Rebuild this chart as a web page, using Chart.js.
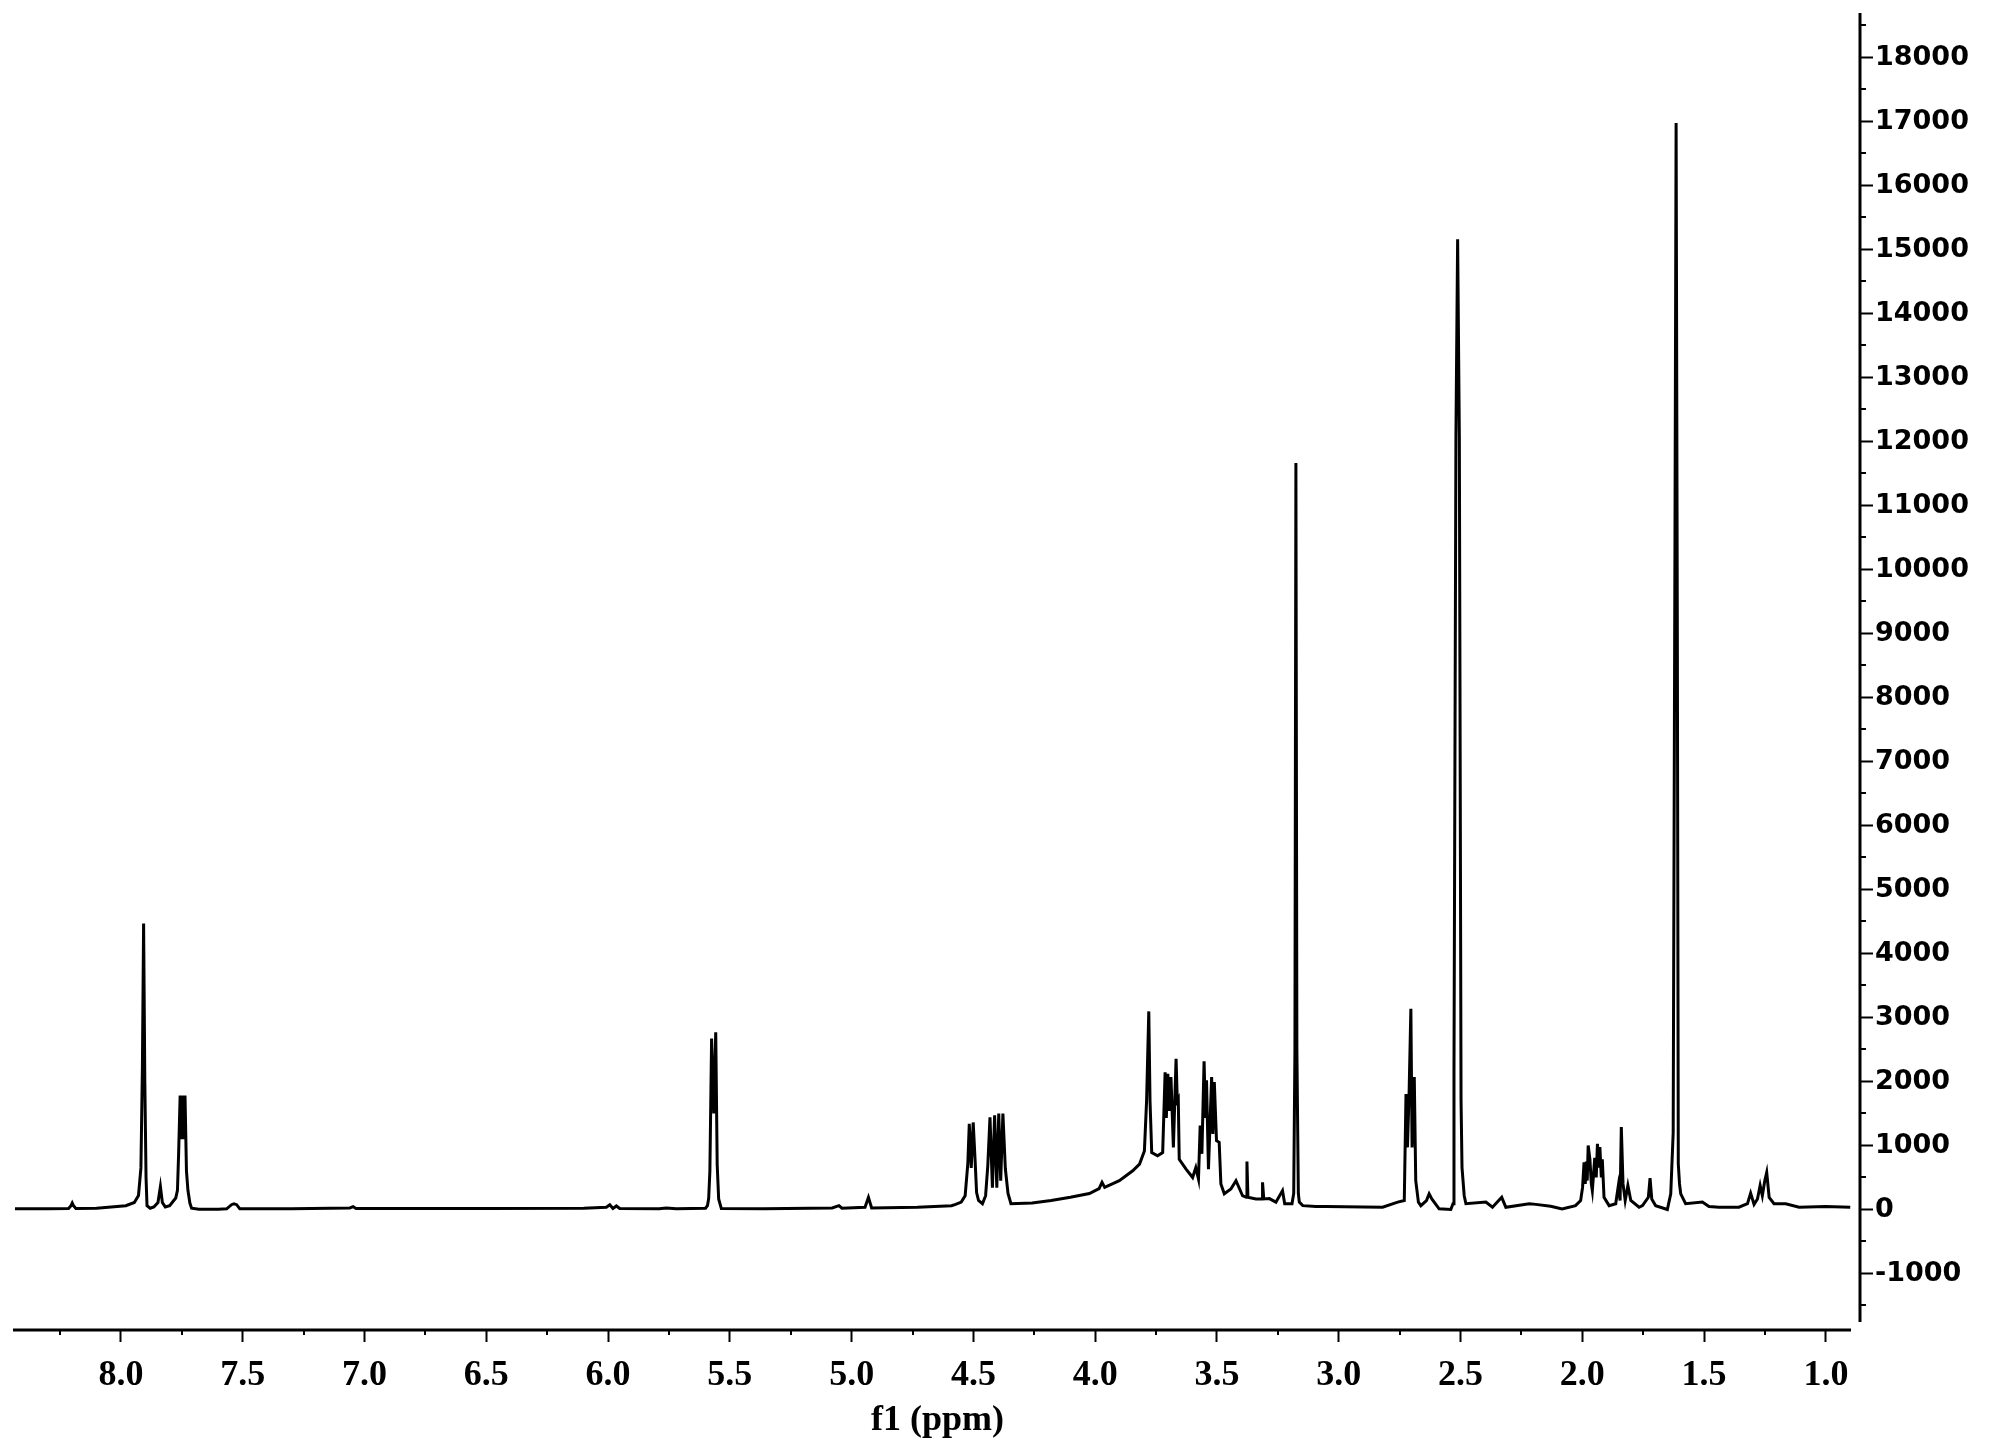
<!DOCTYPE html>
<html>
<head>
<meta charset="utf-8">
<title>1H NMR spectrum</title>
<script src="https://cdn.jsdelivr.net/npm/chart.js@4.4.1/dist/chart.umd.min.js"></script>
<style>
  html, body { margin: 0; padding: 0; background: #fff; }
  #wrap { width: 1991px; height: 1452px; }
</style>
</head>
<body>
<div id="wrap"><canvas id="nmr" width="1991" height="1452"></canvas></div>
<script>
// spectrum, [ppm, intensity]
const aromatic = [
  [8.435, 10], [8.30, 12], [8.215, 15], [8.205, 60], [8.200, 100], [8.195, 60], [8.185, 15],
  [8.10, 20], [8.04, 40], [7.98, 60], [7.945, 110], [7.928, 220], [7.918, 650], [7.912, 2200],
  [7.907, 4470], [7.902, 2000], [7.897, 500], [7.893, 60], [7.88, 20], [7.865, 40], [7.848, 110],
  [7.838, 360], [7.830, 110], [7.818, 40], [7.800, 60], [7.775, 180], [7.768, 300], [7.763, 900],
  [7.757, 1780], [7.752, 1100], [7.747, 1780], [7.742, 1100], [7.737, 1780], [7.731, 600],
  [7.725, 300], [7.717, 100], [7.71, 20], [7.68, 5]
];
const olefinic = [
  [7.60, 5], [7.566, 10], [7.546, 75], [7.536, 90], [7.525, 75], [7.512, 10], [7.30, 10],
  [7.06, 25], [7.047, 45], [7.035, 15], [6.50, 15], [6.10, 20], [6.007, 35], [5.993, 75],
  [5.980, 15], [5.966, 55], [5.952, 15], [5.79, 10], [5.761, 25], [5.72, 10], [5.60, 20]
];
const anomeric = [
  [5.592, 60], [5.587, 170], [5.582, 600], [5.575, 2670], [5.566, 1500], [5.558, 2770],
  [5.552, 700], [5.546, 165], [5.535, 15], [5.36, 10], [5.08, 25], [5.052, 60], [5.04, 20],
  [4.945, 35], [4.931, 190], [4.918, 25], [4.73, 35], [4.59, 60]
];
const sugar = [
  [4.573, 80], [4.550, 115], [4.534, 215], [4.523, 715], [4.517, 1340], [4.509, 650],
  [4.501, 1360], [4.493, 760], [4.487, 265], [4.479, 140], [4.463, 90], [4.450, 215],
  [4.441, 685], [4.432, 1440], [4.422, 340], [4.413, 1470], [4.404, 340], [4.396, 1500],
  [4.388, 450], [4.379, 1500], [4.369, 640], [4.358, 250], [4.346, 90], [4.259, 100],
  [4.181, 140], [4.102, 190], [4.024, 250], [3.984, 325], [3.972, 425], [3.961, 345],
  [3.901, 450], [3.846, 605], [3.818, 710], [3.798, 915], [3.789, 1700], [3.780, 3095],
  [3.775, 1700], [3.768, 890], [3.744, 840], [3.723, 890], [3.713, 2145], [3.708, 1430],
  [3.702, 2120], [3.695, 1540], [3.689, 2070], [3.679, 970], [3.668, 2355], [3.663, 1700],
  [3.659, 1730], [3.655, 785], [3.627, 630], [3.600, 500], [3.587, 655], [3.576, 475],
  [3.569, 1310], [3.562, 870], [3.553, 2315], [3.547, 1430], [3.543, 2020], [3.535, 630],
  [3.522, 2070], [3.517, 1180], [3.511, 1990], [3.502, 1075], [3.491, 1050], [3.484, 400],
  [3.470, 245], [3.443, 320], [3.422, 450], [3.395, 215]
];
const midfield = [
  [3.380, 190], [3.377, 750], [3.373, 190], [3.340, 165], [3.315, 165], [3.313, 425],
  [3.308, 165], [3.285, 170], [3.258, 115], [3.231, 295], [3.222, 90], [3.192, 90],
  [3.185, 250], [3.180, 2500], [3.176, 11665], [3.172, 2500], [3.166, 250], [3.162, 115],
  [3.148, 60], [3.094, 45], [3.053, 45], [2.82, 35], [2.758, 115], [2.731, 140], [2.724, 1805],
  [2.718, 970], [2.711, 1860], [2.704, 3135], [2.699, 970], [2.690, 2070], [2.684, 450],
  [2.673, 115], [2.663, 60], [2.640, 140], [2.629, 245], [2.618, 165], [2.588, 10], [2.540, 0],
  [2.531, 90], [2.527, 2170], [2.519, 12075], [2.512, 15160], [2.505, 12075], [2.498, 1710],
  [2.494, 655], [2.485, 215], [2.478, 90], [2.396, 115], [2.369, 35], [2.331, 190], [2.314, 35],
  [2.218, 90], [2.191, 80], [2.130, 50], [2.083, 10], [2.028, 60], [2.007, 140]
];
const upfield = [
  [1.999, 345], [1.993, 735], [1.988, 400], [1.984, 750], [1.980, 450], [1.976, 1000],
  [1.969, 785], [1.963, 400], [1.959, 295], [1.953, 605], [1.949, 805], [1.943, 500],
  [1.938, 1025], [1.932, 655], [1.928, 975], [1.922, 500], [1.918, 785], [1.911, 190],
  [1.890, 60], [1.863, 90], [1.852, 375], [1.845, 140], [1.840, 1290], [1.833, 400],
  [1.824, 140], [1.813, 375], [1.801, 140], [1.767, 35], [1.753, 60], [1.729, 190],
  [1.722, 490], [1.715, 165], [1.699, 60], [1.651, 0], [1.637, 245], [1.627, 1200],
  [1.620, 10060], [1.615, 16975], [1.610, 9050], [1.606, 710], [1.601, 400], [1.596, 245],
  [1.576, 90], [1.507, 115], [1.480, 45], [1.439, 35], [1.357, 35], [1.322, 90], [1.309, 255],
  [1.295, 80], [1.281, 165], [1.270, 375], [1.261, 215], [1.251, 450], [1.243, 580],
  [1.233, 190], [1.213, 90], [1.165, 90], [1.110, 35], [1.001, 45], [0.90, 35]
];

const xMajorTicks = [8.0, 7.5, 7.0, 6.5, 6.0, 5.5, 5.0, 4.5, 4.0, 3.5, 3.0, 2.5, 2.0, 1.5, 1.0];
const xMinorTicks = [8.25, 7.75, 7.25, 6.75, 6.25, 5.75, 5.25, 4.75, 4.25, 3.75, 3.25, 2.75, 2.25, 1.75, 1.25];
const yMajorTicks = [-1000, 0, 1000, 2000, 3000, 4000, 5000, 6000, 7000, 8000, 9000,
  10000, 11000, 12000, 13000, 14000, 15000, 16000, 17000, 18000];
const yMinorTicks = [-1500, -500, 500, 1500, 2500, 3500, 4500, 5500, 6500, 7500, 8500, 9500,
  10500, 11500, 12500, 13500, 14500, 15500, 16500, 17500, 18500];

const spectrum = [...aromatic, ...olefinic, ...anomeric, ...sugar, ...midfield, ...upfield]
  .map(([x, y]) => ({ x, y }));

// short ticks + the two axis lines (they don't meet in the original)
const axisDecor = {
  id: 'axisDecor',
  afterDraw(chart) {
    const { ctx } = chart;
    const x = chart.scales.x, y = chart.scales.y;
    ctx.save();
    ctx.strokeStyle = '#000';
    ctx.lineWidth = 2;
    ctx.beginPath();
    xMinorTicks.forEach(v => {
      const px = Math.round(x.getPixelForValue(v));
      ctx.moveTo(px, x.top); ctx.lineTo(px, x.top + 5);
    });
    yMinorTicks.forEach(v => {
      const py = Math.round(y.getPixelForValue(v));
      ctx.moveTo(y.left, py); ctx.lineTo(y.left + 6, py);
    });
    ctx.stroke();
    ctx.lineWidth = 3;
    ctx.beginPath();
    ctx.moveTo(x.left - 2, x.top); ctx.lineTo(x.right - 9, x.top);
    ctx.moveTo(y.left, y.top - 2); ctx.lineTo(y.left, y.bottom - 8);
    ctx.stroke();
    ctx.restore();
  }
};

const serif = { family: '"Liberation Serif", "Times New Roman", serif', weight: 'bold', size: 36 };

new Chart(document.getElementById('nmr'), {
  type: 'line',
  data: {
    datasets: [{
      data: spectrum,
      borderColor: '#000',
      borderWidth: 3,
      pointRadius: 0,
      tension: 0,
      fill: false
    }]
  },
  options: {
    responsive: false,
    animation: false,
    layout: { padding: { left: 15, top: 15, right: 0, bottom: 0 } },
    plugins: { legend: { display: false }, tooltip: { enabled: false } },
    scales: {
      x: {
        type: 'linear',
        position: 'bottom',
        reverse: true,
        min: 0.860,
        max: 8.435,
        afterBuildTicks: s => { s.ticks = xMajorTicks.map(v => ({ value: v })); },
        afterFit: s => { s.height = 122; s.paddingLeft = 0; s.paddingRight = 0; },
        grid: { display: true, drawOnChartArea: false, drawTicks: true, tickLength: 12, tickWidth: 2, tickColor: '#000' },
        border: { display: false },
        ticks: {
          color: '#000', font: serif, padding: 12, maxRotation: 0, autoSkip: false,
          callback: v => Number(v).toFixed(1)
        },
        title: { display: true, text: 'f1 (ppm)', color: '#000', font: serif, padding: { top: 0, bottom: 10 } }
      },
      y: {
        type: 'linear',
        position: 'right',
        min: -1883,
        max: 18664,
        afterBuildTicks: s => { s.ticks = yMajorTicks.map(v => ({ value: v })); },
        afterFit: s => { s.width = 131; s.paddingTop = 0; s.paddingBottom = 0; },
        grid: { display: true, drawOnChartArea: false, drawTicks: true, tickLength: 13, tickWidth: 2, tickColor: '#000' },
        border: { display: false },
        ticks: {
          color: '#000', padding: 2, autoSkip: false,
          font: { family: '"DejaVu Sans", Verdana, sans-serif', weight: 'bold', size: 27 },
          callback: v => String(v)
        }
      }
    }
  },
  plugins: [axisDecor]
});
</script>
</body>
</html>
